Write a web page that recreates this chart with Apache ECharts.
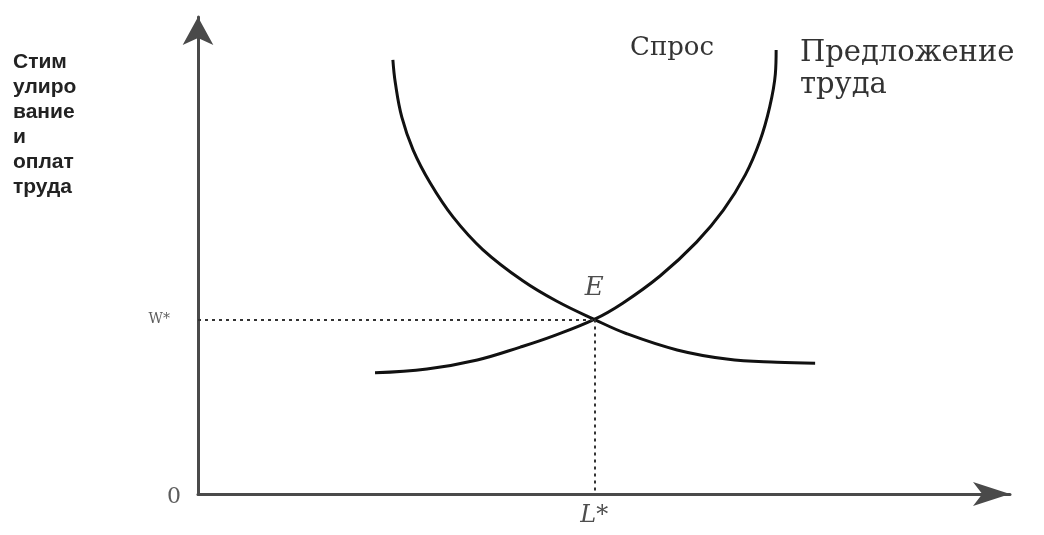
<!DOCTYPE html>
<html><head><meta charset="utf-8">
<script src="https://cdn.jsdelivr.net/npm/echarts@6/dist/echarts.min.js"></script>
<style>html,body{margin:0;padding:0;background:#fff}#c{width:1044px;height:535px}</style>
</head><body><div id="c"></div>
<script>
// Labour market: quantity of labour (L) vs wage (W), abstract units 0..100
const demandL = [24.0, 24.3, 25.1, 26.5, 28.6, 31.4, 35.1, 40.0, 44.2, 48.8, 52.8, 59.0, 65.1, 71.3, 76.0];
const demandW = [91.0, 86.2, 79.0, 72.1, 65.2, 58.1, 51.2, 44.7, 40.4, 36.6, 33.6, 30.2, 28.3, 27.6, 27.4];
const supplyL = [21.8, 28.2, 34.4, 39.7, 43.7, 48.8, 52.3, 56.9, 61.4, 64.7, 67.4, 69.2, 70.4, 71.1, 71.2];
const supplyW = [25.4, 26.2, 28.1, 30.8, 33.1, 36.6, 40.0, 45.7, 52.8, 59.5, 66.9, 74.0, 81.1, 88.0, 93.1];
const eqL = 48.8;
const eqW = 36.6;
const labelE = 'E';
const labelW = 'W*';
const labelL = 'L*';
const labelO = '0';
const demandName = 'Спрос';
const supplyName = 'Предложение\nтруда';
const yAxisTitle = 'Стим\nулиро\nвание\nи\nоплат\nтруда';

const zip = (a, b) => a.map((v, i) => [v, b[i]]);
const serif = "'DejaVu Serif', 'Liberation Serif', serif";

const chart = echarts.init(document.getElementById('c'), null, {renderer: 'canvas'});
chart.setOption({
  backgroundColor: '#ffffff',
  animation: false,
  grid: {left: 198, right: 34, top: 17, bottom: 41},
  xAxis: {
    type: 'value', min: 0, max: 100,
    axisLine: {show: true, onZero: false, symbol: ['none', 'arrow'], symbolSize: [18, 37], symbolOffset: [0, 0],
      lineStyle: {color: '#4a4a4a', width: 3}},
    axisTick: {show: false}, axisLabel: {show: false}, splitLine: {show: false}
  },
  yAxis: {
    type: 'value', min: 0, max: 100,
    axisLine: {show: true, onZero: false, symbol: ['none', 'arrow'], symbolSize: [23, 28], symbolOffset: [0, 0],
      lineStyle: {color: '#4a4a4a', width: 3}},
    axisTick: {show: false}, axisLabel: {show: false}, splitLine: {show: false}
  },
  series: [
    {
      name: 'demand', type: 'line', data: zip(demandL, demandW), smooth: 0.4,
      showSymbol: false, lineStyle: {color: '#111', width: 3}, z: 3
    },
    {
      name: 'supply', type: 'line', data: zip(supplyL, supplyW), smooth: 0.4,
      showSymbol: false, lineStyle: {color: '#111', width: 3}, z: 3,
      markLine: {
        silent: true, symbol: ['none', 'none'], label: {show: false},
        lineStyle: {color: '#333', width: 2, type: [3, 4]},
        data: [
          [{coord: [0, eqW]}, {coord: [eqL, eqW]}],
          [{coord: [eqL, eqW]}, {coord: [eqL, 0]}]
        ]
      }
    },
    {
      name: 'labels', type: 'scatter', symbolSize: 0, silent: true, z: 5,
      data: [
        {value: [eqL, eqW], label: {show: true, formatter: labelE, position: 'top', distance: 18,
          fontFamily: serif, fontStyle: 'italic', fontSize: 26, color: '#222'}},
        {value: [0, eqW], label: {show: true, formatter: labelW, position: 'left', distance: 28,
          fontFamily: serif, fontSize: 14, color: '#333'}},
        {value: [eqL, 0], label: {show: true, formatter: labelL, position: 'bottom', distance: 10,
          fontFamily: serif, fontStyle: 'italic', fontSize: 24, color: '#222'}},
        {value: [0, 0], label: {show: true, formatter: labelO, position: 'left', distance: 17, offset: [0, 3],
          fontFamily: serif, fontSize: 22, color: '#333'}}
      ]
    }
  ],
  graphic: [
    {type: 'text', left: 630, top: 35, style: {text: demandName, font: "26px 'DejaVu Serif', serif", fill: '#333'}},
    {type: 'text', left: 800, top: 37, style: {text: supplyName, font: "29px 'DejaVu Serif', serif", lineHeight: 32, fill: '#333'}},
    {type: 'text', left: 13, top: 50, style: {text: yAxisTitle, font: "bold 21px 'Liberation Sans', Arial, sans-serif", lineHeight: 25, fill: '#222'}}
  ]
});
</script>
</body></html>
